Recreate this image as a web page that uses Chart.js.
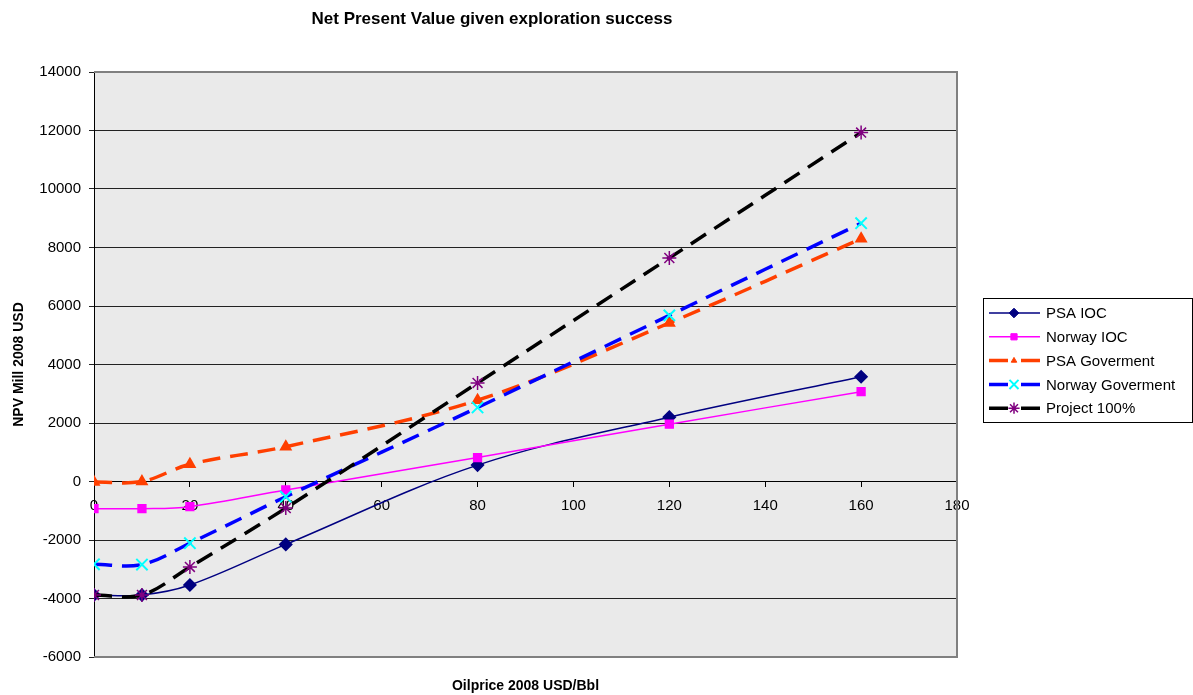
<!DOCTYPE html>
<html>
<head>
<meta charset="utf-8">
<title>Net Present Value given exploration success</title>
<script src="https://cdn.jsdelivr.net/npm/chart.js@4"></script>
<style>
  html, body { margin: 0; padding: 0; background: #fff; }
  #wrap { width: 1193px; height: 695px; position: relative; }
</style>
</head>
<body>
<div id="wrap"><canvas id="npv-chart" width="1193" height="695"></canvas></div>
<script>
const FONT = '"Liberation Sans", Arial, sans-serif';

// Oil price (USD/Bbl) and NPV per party (Mill 2008 USD)
const oilPrice = [0, 10, 20, 40, 80, 120, 160];
const psaIoc = [-3880, -3880, -3540, -2150, 560, 2200, 3580];
const norwayIoc = [-930, -930, -860, -290, 820, 1960, 3070];
const psaGov = [-20, 0, 590, 1190, 2780, 5420, 8300];
const norwayGov = [-2830, -2840, -2110, -520, 2530, 5680, 8830];
const project = [-3880, -3880, -2920, -910, 3370, 7640, 11930];

const seriesNames = ['PSA IOC', 'Norway IOC', 'PSA Goverment', 'Norway Goverment', 'Project 100%'];
const xTicks = { min: 0, max: 180, step: 20 };
const yTicks = { min: -6000, max: 14000, step: 2000 };

function toPoints(values) {
    return values.map((v, i) => ({ x: oilPrice[i], y: v }));
}

const DASH = [18, 10];

const datasets = [
    {
        label: seriesNames[0], data: toPoints(psaIoc),
        borderColor: '#000080', borderWidth: 1.5,
        pointStyle: 'rectRot', pointRadius: 6, pointBackgroundColor: '#000080', pointBorderColor: '#000080',
        order: 5
    },
    {
        label: seriesNames[1], data: toPoints(norwayIoc),
        borderColor: '#ff00ff', borderWidth: 1.5,
        pointStyle: 'rect', pointRadius: 5.5, pointBackgroundColor: '#ff00ff', pointBorderColor: '#ff00ff',
        order: 4
    },
    {
        label: seriesNames[2], data: toPoints(psaGov),
        borderColor: '#ff3f00', borderWidth: 3.5, borderDash: DASH,
        pointStyle: 'triangle', pointRadius: 4, pointBackgroundColor: '#ff3f00', pointBorderColor: '#ff3f00',
        order: 3
    },
    {
        label: seriesNames[3], data: toPoints(norwayGov),
        borderColor: '#0000ff', borderWidth: 3.5, borderDash: DASH,
        pointStyle: 'crossRot', pointRadius: 8, pointBorderWidth: 2, pointBorderColor: '#00ffff',
        order: 2
    },
    {
        label: seriesNames[4], data: toPoints(project),
        borderColor: '#000000', borderWidth: 3.5, borderDash: DASH,
        pointStyle: 'star', pointRadius: 7, pointBorderWidth: 1.5, pointBorderColor: '#800080',
        order: 1
    }
];

function drawMarker(ctx, ds, x, y, scale) {
    ctx.save();
    ctx.setLineDash([]);
    ctx.fillStyle = ds.pointBackgroundColor || ds.pointBorderColor;
    ctx.strokeStyle = ds.pointBorderColor;
    ctx.lineWidth = ds.pointBorderWidth || 1;
    Chart.helpers.drawPoint(ctx, {
        pointStyle: ds.pointStyle,
        radius: ds.pointRadius * scale,
        borderWidth: ds.pointBorderWidth || 1,
        rotation: 0
    }, x, y);
    ctx.restore();
}

// gray plot area with a gray frame on top/right/bottom
const plotArea = {
    id: 'plotArea',
    beforeDraw(chart) {
        const { ctx, chartArea: a } = chart;
        ctx.save();
        ctx.fillStyle = '#eaeaea';
        ctx.fillRect(a.left, a.top, a.right - a.left, a.bottom - a.top);
        ctx.restore();
    },
    afterDatasetsDraw(chart) {
        const { ctx, chartArea: a } = chart;
        ctx.save();
        ctx.strokeStyle = '#808080';
        ctx.lineWidth = 2;
        ctx.beginPath();
        ctx.moveTo(a.left, a.top);
        ctx.lineTo(a.right, a.top);
        ctx.lineTo(a.right, a.bottom);
        ctx.lineTo(a.left, a.bottom);
        ctx.stroke();
        ctx.restore();
    }
};

// chart title, x axis title and boxed legend
const annotations = {
    id: 'annotations',
    afterDraw(chart) {
        const { ctx, chartArea: a } = chart;
        ctx.save();
        ctx.fillStyle = '#000';
        ctx.textAlign = 'center';
        ctx.textBaseline = 'middle';
        ctx.font = 'bold 17px ' + FONT;
        ctx.fillText('Net Present Value given exploration success', 492, 19);
        ctx.font = 'bold 14px ' + FONT;
        ctx.fillText('Oilprice 2008 USD/Bbl', (a.left + a.right) / 2, 686);

        // legend
        const bx = 983, by = 298, bw = 209, bh = 124;
        ctx.strokeStyle = '#000';
        ctx.lineWidth = 1;
        ctx.strokeRect(bx + 0.5, by + 0.5, bw, bh);
        ctx.font = '15px ' + FONT;
        ctx.textAlign = 'left';
        chart.data.datasets.forEach((ds, i) => {
            const y = by + 15 + i * 23.8;
            ctx.strokeStyle = ds.borderColor;
            ctx.lineWidth = ds.borderWidth;
            ctx.setLineDash([]);
            ctx.beginPath();
            if (ds.borderDash) {
                ctx.moveTo(989, y); ctx.lineTo(1008, y);
                ctx.moveTo(1021, y); ctx.lineTo(1040, y);
            } else {
                ctx.moveTo(989, y); ctx.lineTo(1040, y);
            }
            ctx.stroke();
            drawMarker(ctx, ds, 1014, y, 0.8);
            ctx.fillStyle = '#000';
            ctx.fillText(ds.label, 1046, y + 1);
        });
        ctx.restore();
    }
};

new Chart(document.getElementById('npv-chart'), {
    type: 'line',
    data: { datasets },
    plugins: [plotArea, annotations],
    options: {
        responsive: false,
        animation: false,
        layout: { padding: { left: 0, top: 72, right: 236, bottom: 38 } },
        elements: { line: { tension: 0.35, fill: false } },
        plugins: {
            legend: { display: false },
            title: { display: false },
            tooltip: { enabled: false }
        },
        scales: {
            x: {
                type: 'linear',
                position: { y: 0 },
                min: xTicks.min, max: xTicks.max,
                ticks: {
                    stepSize: xTicks.step, color: '#000', padding: 10,
                    font: { family: FONT, size: 15 },
                    callback: v => String(v)
                },
                grid: { drawOnChartArea: false, drawTicks: true, tickLength: 5, color: '#000' },
                border: { display: true, color: '#000', width: 1 }
            },
            y: {
                type: 'linear',
                min: yTicks.min, max: yTicks.max,
                afterFit(scale) { scale.width = 94; },
                ticks: {
                    stepSize: yTicks.step, color: '#000', padding: 8,
                    font: { family: FONT, size: 15 },
                    callback: v => String(v)
                },
                title: {
                    display: true, text: 'NPV Mill 2008 USD', color: '#000',
                    font: { family: FONT, size: 14, weight: 'bold' },
                    padding: { top: 11, bottom: 0 }
                },
                grid: { color: '#222', lineWidth: 1, tickLength: 5, drawTicks: true },
                border: { display: true, color: '#000', width: 1 }
            }
        }
    }
});
</script>
</body>
</html>
